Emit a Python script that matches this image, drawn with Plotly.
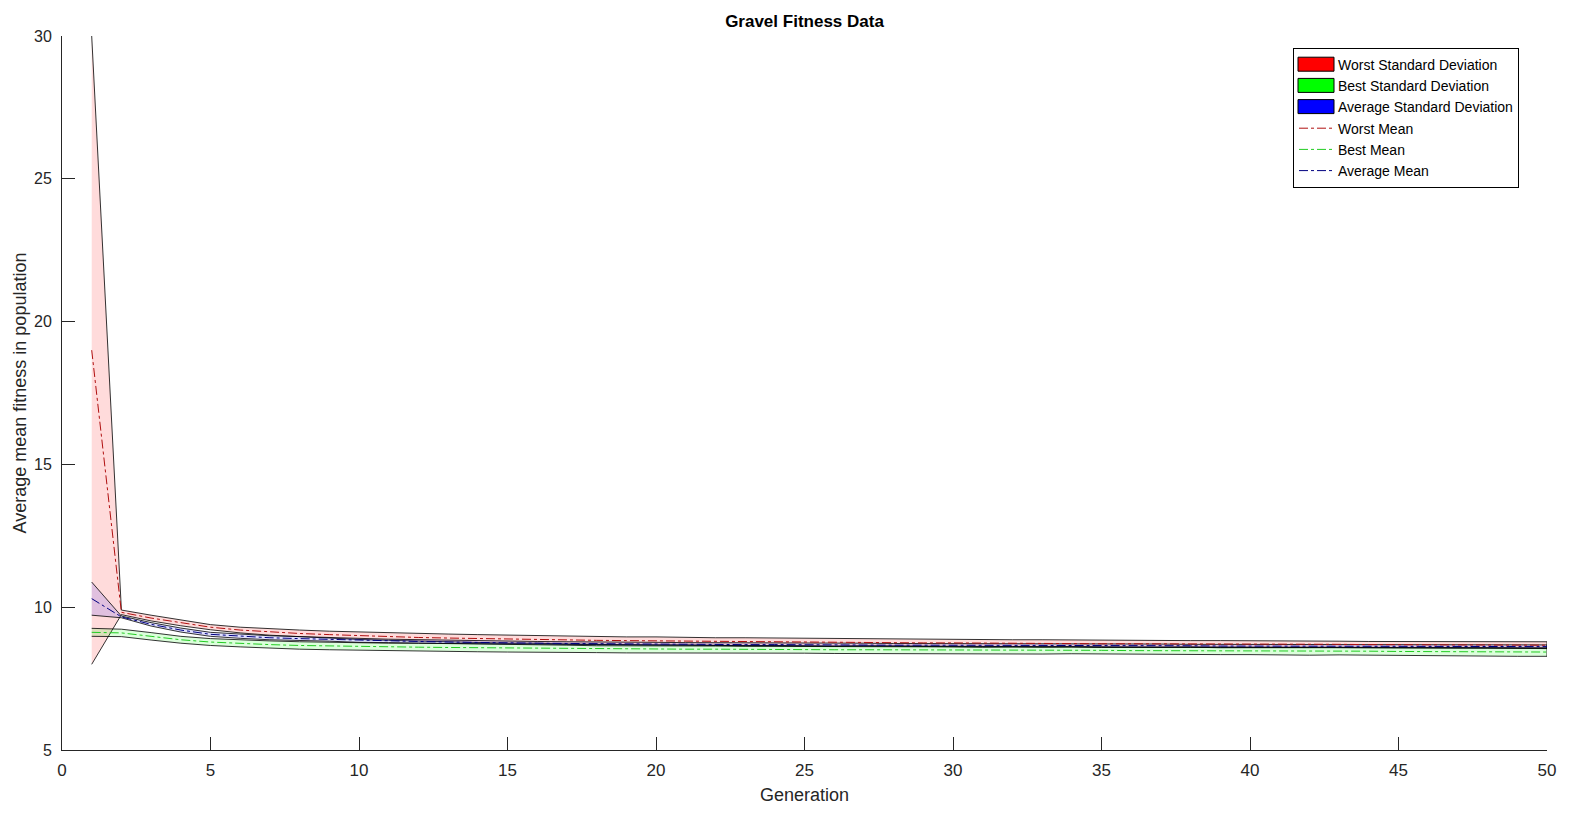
import plotly.graph_objects as go

generations = list(range(1, 51))

worst_mean = [19.0, 9.82, 9.62, 9.45, 9.30, 9.20, 9.13, 9.08, 9.04, 9.00,
              8.97, 8.94, 8.92, 8.90, 8.88, 8.87, 8.85, 8.84, 8.83, 8.82,
              8.81, 8.80, 8.79, 8.79, 8.78, 8.77, 8.77, 8.76, 8.75, 8.75,
              8.74, 8.74, 8.73, 8.73, 8.72, 8.72, 8.72, 8.71, 8.71, 8.71,
              8.70, 8.70, 8.70, 8.69, 8.69, 8.69, 8.68, 8.68, 8.68, 8.67]
worst_std = [11.0, 0.08, 0.10, 0.10, 0.09, 0.10, 0.11, 0.12, 0.12, 0.13,
             0.13, 0.13, 0.14, 0.14, 0.14, 0.13, 0.14, 0.14, 0.13, 0.14,
             0.13, 0.13, 0.14, 0.13, 0.13, 0.14, 0.13, 0.13, 0.13, 0.13,
             0.13, 0.12, 0.13, 0.12, 0.12, 0.12, 0.12, 0.12, 0.12, 0.12,
             0.11, 0.12, 0.11, 0.11, 0.11, 0.11, 0.11, 0.11, 0.11, 0.12]

best_mean = [9.12, 9.10, 8.98, 8.86, 8.78, 8.73, 8.69, 8.66, 8.64, 8.62,
             8.61, 8.60, 8.59, 8.58, 8.57, 8.56, 8.55, 8.55, 8.54, 8.54,
             8.53, 8.53, 8.52, 8.52, 8.52, 8.51, 8.51, 8.51, 8.50, 8.50,
             8.50, 8.49, 8.49, 8.49, 8.49, 8.48, 8.48, 8.48, 8.47, 8.47,
             8.47, 8.46, 8.46, 8.46, 8.45, 8.45, 8.44, 8.44, 8.43, 8.43]
best_std = [0.14, 0.13, 0.13, 0.12, 0.12, 0.12, 0.13, 0.13, 0.13, 0.13,
            0.13, 0.14, 0.14, 0.14, 0.14, 0.14, 0.14, 0.14, 0.14, 0.14,
            0.13, 0.13, 0.14, 0.13, 0.13, 0.13, 0.14, 0.13, 0.13, 0.13,
            0.12, 0.13, 0.13, 0.12, 0.13, 0.13, 0.12, 0.13, 0.13, 0.13,
            0.13, 0.14, 0.13, 0.14, 0.14, 0.14, 0.14, 0.15, 0.15, 0.15]

avg_mean = [10.30, 9.66, 9.40, 9.20, 9.05, 8.98, 8.93, 8.90, 8.87, 8.84,
            8.82, 8.80, 8.78, 8.76, 8.75, 8.74, 8.73, 8.72, 8.71, 8.71,
            8.70, 8.70, 8.69, 8.69, 8.68, 8.68, 8.68, 8.67, 8.67, 8.67,
            8.66, 8.66, 8.66, 8.66, 8.65, 8.65, 8.65, 8.65, 8.64, 8.64,
            8.64, 8.64, 8.64, 8.63, 8.63, 8.63, 8.63, 8.63, 8.62, 8.62]
avg_std = [0.58, 0.03, 0.06, 0.07, 0.07, 0.07, 0.07, 0.07, 0.06, 0.07,
           0.06, 0.06, 0.07, 0.06, 0.06, 0.06, 0.06, 0.07, 0.06, 0.06,
           0.06, 0.06, 0.06, 0.06, 0.06, 0.06, 0.06, 0.06, 0.06, 0.06,
           0.06, 0.06, 0.06, 0.05, 0.06, 0.06, 0.06, 0.05, 0.06, 0.06,
           0.06, 0.05, 0.06, 0.06, 0.06, 0.05, 0.06, 0.06, 0.06, 0.06]

x_ticks = [0, 5, 10, 15, 20, 25, 30, 35, 40, 45, 50]
y_ticks = [5, 10, 15, 20, 25, 30]

AX = "#262626"
FONT = "Liberation Sans, Arial, Helvetica, sans-serif"

series = [
    ("Worst", worst_mean, worst_std, "rgba(255,0,0,0.14)", "#ff0000", "#b01010"),
    ("Best", best_mean, best_std, "rgba(0,255,0,0.14)", "#00ff00", "#22cc22"),
    ("Average", avg_mean, avg_std, "rgba(0,0,255,0.12)", "#0000ff", "#000080"),
]

# page geometry (page has an 8px body offset)
OFF = 8
PL, PR, PT, PB = 62, 1547, 36, 750
W, H = 1570, 813


def px_x(px):
    return (px - PL) / (PR - PL)


def px_y(py):
    return 1 - (py - PT) / (PB - PT)


fig = go.Figure()

# Std bands (polygons, mean +/- std)
for name, m, s, fc, solid, lc in series:
    upper = [a + b for a, b in zip(m, s)]
    lower = [a - b for a, b in zip(m, s)]
    fig.add_trace(go.Scatter(
        x=generations + generations[::-1],
        y=upper + lower[::-1],
        fill="toself", fillcolor=fc, mode="lines",
        line=dict(color="black", width=0.8),
        showlegend=False, hoverinfo="skip"))

# Legend entries for bands (solid colours)
for name, m, s, fc, solid, lc in series:
    fig.add_trace(go.Scatter(
        x=[None], y=[None], fill="toself", fillcolor=solid, mode="lines",
        line=dict(color=solid, width=0),
        name=f"{name} Standard Deviation"))

# Mean lines
for name, m, s, fc, solid, lc in series:
    fig.add_trace(go.Scatter(
        x=generations, y=m, mode="lines",
        line=dict(color=lc, width=1, dash="dashdot"),
        name=f"{name} Mean"))

# Legend patch rectangles (MATLAB-style swatches)
row_centers = [64.2, 85.4, 106.6]
shapes = []
for (name, m, s, fc, solid, lc), cy in zip(series, row_centers):
    shapes.append(dict(type="rect", xref="paper", yref="paper",
                       x0=px_x(1298), x1=px_x(1334),
                       y0=px_y(cy + 7), y1=px_y(cy - 7),
                       fillcolor=solid, line=dict(color="black", width=1),
                       layer="above"))

fig.update_layout(
    width=W, height=H,
    margin=dict(l=PL - OFF, r=W + OFF - PR, t=PT - OFF, b=H + OFF - PB),
    paper_bgcolor="white", plot_bgcolor="white",
    font=dict(family=FONT, color=AX, size=16),
    title=dict(text="<b>Gravel Fitness Data</b>", x=((PL + PR) / 2 - OFF) / W,
               xanchor="center", y=1 - (21 - OFF) / H, yanchor="middle",
               font=dict(size=17, color="black", family=FONT)),
    showlegend=True,
    legend=dict(x=px_x(1293), xanchor="left",
                y=px_y(48), yanchor="top",
                bgcolor="rgba(255,255,255,0)", bordercolor="black", borderwidth=1,
                font=dict(size=14, color="black", family=FONT),
                tracegroupgap=0, itemwidth=34),
    shapes=shapes,
)

fig.update_xaxes(
    range=[0, 50], tickvals=x_ticks, ticktext=[str(v) for v in x_ticks],
    ticks="inside", ticklen=13, tickcolor=AX, tickwidth=1,
    showline=True, linecolor=AX, linewidth=1, mirror=False,
    showgrid=False, zeroline=False, ticklabelstandoff=5, automargin=False,
    title=dict(text="Generation", font=dict(size=18, color=AX), standoff=8),
    tickfont=dict(size=17, color=AX))

fig.update_yaxes(
    range=[5, 30], tickvals=y_ticks, ticktext=[str(v) for v in y_ticks],
    ticks="inside", ticklen=13, tickcolor=AX, tickwidth=1,
    showline=True, linecolor=AX, linewidth=1, mirror=False,
    showgrid=False, zeroline=False, ticklabelstandoff=6, automargin=False,
    title=dict(text="Average mean fitness in population",
               font=dict(size=18, color=AX), standoff=2),
    tickfont=dict(size=16, color=AX))

fig.write_html("out.html")
